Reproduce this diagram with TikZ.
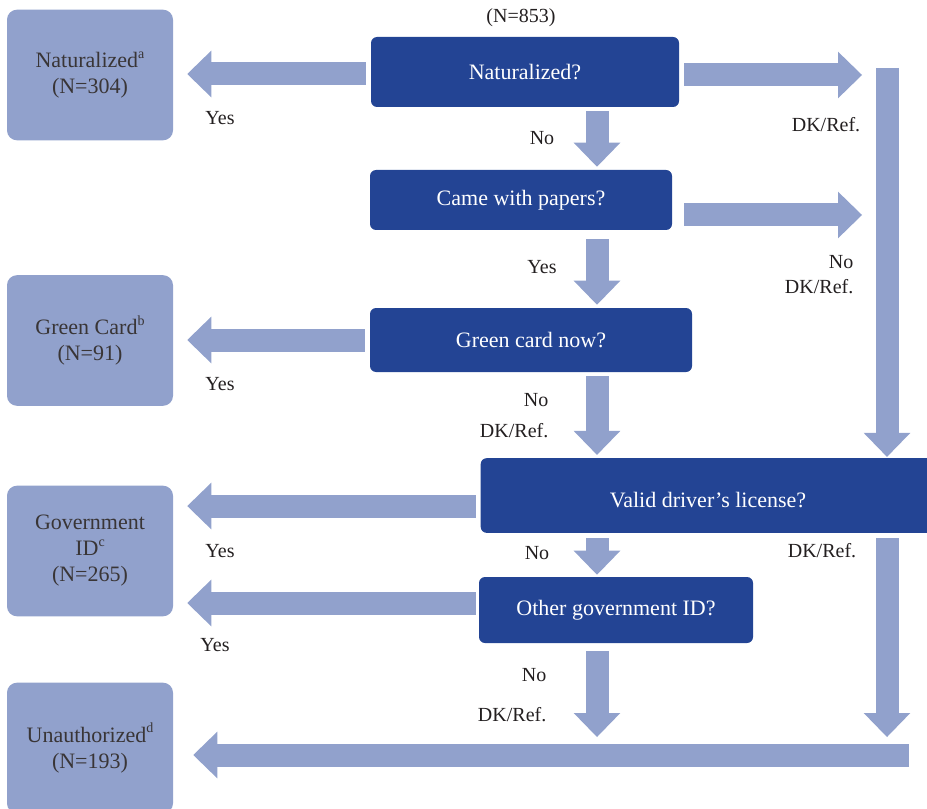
\documentclass[tikz,border=0pt]{standalone}
\usepackage{fontspec}
\setmainfont{Liberation Serif}
\usetikzlibrary{arrows.meta, calc}
\definecolor{cdark}{HTML}{234494}
\definecolor{clight}{HTML}{91A1CC}
\definecolor{ctext}{HTML}{231F20}
\tikzset{
  every picture/.style={font=\fontsize{15}{19.5}\selectfont},
  question/.style={fill=cdark, text=white, rounded corners=4.5pt, align=center, inner sep=0pt, font=\fontsize{16.5}{20}\selectfont},
  outcome/.style={fill=clight, text=ctext!90, rounded corners=7.5pt, align=center, inner sep=0pt, minimum width=124.5pt, minimum height=98pt, font=\fontsize{16.5}{19.5}\selectfont},
  flow/.style={draw=clight, line width=17.25pt, -{Triangle[length=18pt, width=35pt, line width=0pt]}},
  lbl/.style={text=ctext},
}
\newcommand{\fnmark}[1]{\raisebox{0.42em}{\fontsize{10.5}{10.5}\selectfont #1}}

\begin{document}
\begin{tikzpicture}[x=0.75pt, y=-0.75pt]
  \useasboundingbox (0,0) rectangle (927,809);
  \clip (0,0) rectangle (927,809);
  % outcomes
  \node[outcome] (nat) at (90,75) {Naturalized\fnmark{a}\\(N=304)};
  \node[outcome] (green) at (90,340.5) {Green Card\fnmark{b}\\(N=91)};
  \node[outcome] (govid) at (90,551) {Government\\ID\fnmark{c}\\(N=265)};
  \node[outcome] (unauth) at (90,748) {Unauthorized\fnmark{d}\\(N=193)};
  % questions
  \node[lbl] (total) at (521,18) {(N=853)};
  \node[question, minimum width=231pt, minimum height=52.5pt] (qnat) at (525,72) {Naturalized?};
  \node[question, minimum width=226.5pt, minimum height=45pt] (qpapers) at (521,200) {Came with papers?};
  \node[question, minimum width=241.5pt, minimum height=48pt] (qgreen) at (531,340) {Green card now?};
  \node[question, minimum width=341pt, minimum height=56pt] (qlicense) at (708,495.5) {\raisebox{-3.5pt}[\height][\depth]{Valid driver’s license?}};
  \node[question, minimum width=205.5pt, minimum height=49.5pt] (qother) at (616,610) {Other government ID?};
  \coordinate (rtop) at (887,68);
  \coordinate (dn) at (597,0);
  \coordinate (ubar) at (909,755);
  % yes branches
  \draw[flow, shorten <=3.75pt, shorten >=10.5pt] ([yshift=-1.5pt]qnat.west) -- ([yshift=-1.5pt]qnat.west -| nat.east);
  \draw[flow, shorten <=3.75pt, shorten >=10.5pt] (qgreen.west) -- (qgreen.west -| green.east);
  \draw[flow, shorten <=3.4pt, shorten >=10.5pt] ([yshift=-7.9pt]qlicense.west) -- ([yshift=-7.9pt]qlicense.west -| govid.east);
  \draw[flow, shorten <=2.25pt, shorten >=10.5pt] ([yshift=5.25pt]qother.west) -- ([yshift=5.25pt]qother.west -| govid.east);
  % down the middle
  \draw[flow, shorten <=3pt, shorten >=2.25pt] (qnat.south -| dn) -- (qpapers.north -| dn);
  \draw[flow, shorten <=6.75pt, shorten >=2.25pt] (qpapers.south -| dn) -- (qgreen.north -| dn);
  \draw[flow, shorten <=3pt, shorten >=2.25pt] (qgreen.south -| dn) -- (qlicense.north -| dn);
  \draw[flow, shorten <=3.75pt, shorten >=1.5pt] (qlicense.south -| dn) -- (qother.north -| dn);
  \draw[flow, shorten <=6pt, shorten >=13.5pt] (qother.south -| dn) -- (ubar -| dn);
  % DK/Ref. column
  \draw[flow, shorten <=3.75pt, shorten >=18.75pt] ([yshift=-2.25pt]qnat.east) -- ([yshift=-2.25pt]qnat.east -| rtop);
  \draw[flow, shorten <=9pt, shorten >=18.75pt] ([yshift=-11.25pt]qpapers.east) -- ([yshift=-11.25pt]qpapers.east -| rtop);
  \draw[flow, shorten >=0.75pt] (rtop) -- (rtop |- qlicense.north);
  \draw[flow, shorten <=3.75pt, shorten >=13.5pt] (rtop |- qlicense.south) -- (rtop |- ubar);
  \draw[flow, shorten >=15pt] (ubar) -- (ubar -| unauth.east);
  % labels
  \node[lbl] (yes1) at (220,118) {Yes};
  \node[lbl] (no1) at (542,138) {No};
  \node[lbl] (dk1) at (826,125) {DK/Ref.};
  \node[lbl] (yes2) at (542,267) {Yes};
  \node[lbl, anchor=east] (no2) at (858,262) {No};
  \node[lbl, anchor=east] (dk2) at (858,287) {DK/Ref.};
  \node[lbl] (yes3) at (220,384) {Yes};
  \node[lbl, anchor=east] (no3) at (553,400) {No};
  \node[lbl, anchor=east] (dk3) at (553,431) {DK/Ref.};
  \node[lbl] (yes4) at (220,551) {Yes};
  \node[lbl] (no4) at (537,553) {No};
  \node[lbl] (dk4) at (822,551) {DK/Ref.};
  \node[lbl] (yes5) at (215,645) {Yes};
  \node[lbl, anchor=east] (no5) at (551,675) {No};
  \node[lbl, anchor=east] (dk5) at (551,715) {DK/Ref.};
\end{tikzpicture}
\end{document}
